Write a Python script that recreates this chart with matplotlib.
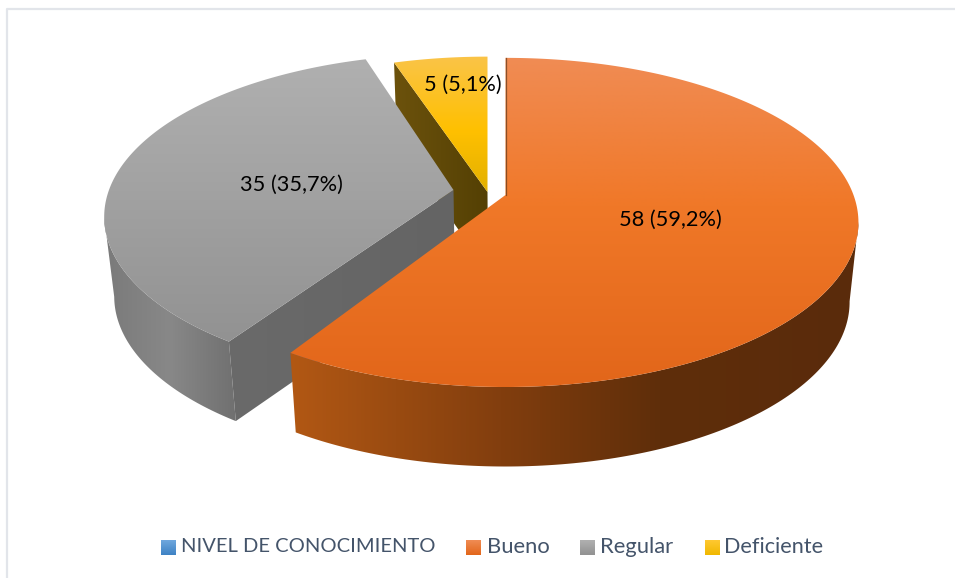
"""3D-looking exploded pie: nivel de conocimiento (Bueno / Regular / Deficiente)."""
import numpy as np
import matplotlib
matplotlib.use("Agg")
import matplotlib.pyplot as plt
from matplotlib.colors import LinearSegmentedColormap
from matplotlib.patches import Polygon

plt.rcParams["font.family"] = ["Lato", "DejaVu Sans"]

LEGEND_TITLE = "NIVEL DE CONOCIMIENTO"
categories = ["Bueno", "Regular", "Deficiente"]
values = [58, 35, 5]

W, H = 955, 578
# projection of the pie plane to pixels
S, A, P = 348.0, 160.0, 0.1667
DEPTH, SHRINK, CX = 79.5, 0.975, 505.0


def rgb(*c):
    return tuple(x / 255 for x in c)


def rim(t, apex, k=1.0):
    """Pie angle (clockwise from top, radians) to a pixel on the top rim."""
    t = np.asarray(t, dtype=float)
    u, v = np.sin(t) * k, np.cos(t) * k
    d = 1 + P * v
    return np.column_stack([apex[0] + S * u / d, apex[1] - A * v / d])


def drop(pts):
    """Same points on the bottom face of the disc."""
    pts = np.atleast_2d(pts)
    return np.column_stack([CX + (pts[:, 0] - CX) * SHRINK, pts[:, 1] + DEPTH])


def grad_fill(ax, pts, stops, vertical=True, zorder=1):
    pts = np.asarray(pts)
    x0, y0 = pts.min(axis=0)
    x1, y1 = pts.max(axis=0)
    cmap = LinearSegmentedColormap.from_list("g", [(p, rgb(*c)) for p, c in stops])
    ramp = np.linspace(0, 1, 256)
    img = ramp[:, None] if vertical else ramp[None, :]
    clip = Polygon(pts, closed=True, transform=ax.transData, fc="none", ec="none")
    ax.add_patch(clip)
    ax.imshow(img, cmap=cmap, vmin=0, vmax=1, extent=(x0, x1, y1, y0), origin="upper",
              aspect="auto", clip_path=clip, zorder=zorder, interpolation="bilinear")


fig = plt.figure(figsize=(W / 100, H / 100), dpi=100)
ax = fig.add_axes([0, 0, 1, 1])
ax.axis("off")

# chart frame (only top and left show up)
ax.plot([7, 7, W], [H, 9, 9], color=rgb(226, 229, 234), lw=1.6, zorder=0)

total = sum(values)
edges = np.radians(np.cumsum([0] + values) / total * 360)
# small rotations the original 3D rendering gives the cut edges
t_orange = np.linspace(edges[0], edges[1] - np.radians(1.0), 240)
t_gray = np.linspace(edges[1], edges[2], 160) + np.radians(1.2)
t_yellow = np.linspace(edges[2], edges[3], 40)

apex_o = (505.5, 195.0)
apex_g = (453.5, 190.0)
apex_y = (487.5, 192.0)

# yellow slice: radial wall then top
top_y = rim(t_yellow, apex_y, 0.985)
wall = np.vstack([[apex_y], top_y[:1], drop(top_y[:1]), drop([apex_y])])
grad_fill(ax, wall, [(0, (108, 82, 12)), (1, (84, 64, 4))], vertical=False, zorder=2)
grad_fill(ax, np.vstack([[apex_y], top_y]),
          [(0, (250, 196, 72)), (0.55, (255, 192, 0)), (1, (226, 176, 0))], zorder=3)

# gray slice
top_g = rim(t_gray, apex_g, 0.99)
i_left = int(np.argmin(top_g[:, 0]))
wall = np.vstack([top_g[:i_left + 1], drop(top_g[:i_left + 1])[::-1]])
grad_fill(ax, wall, [(0, (122, 122, 122)), (0.5, (136, 136, 136)), (1, (112, 112, 112))],
          vertical=False, zorder=4)
wall = np.vstack([[apex_g], top_g[:1], drop(top_g[:1]), drop([apex_g])])
grad_fill(ax, wall, [(0, (106, 106, 106)), (1, (100, 100, 100))], vertical=False, zorder=5)
grad_fill(ax, np.vstack([[apex_g], top_g]),
          [(0, (176, 176, 176)), (1, (146, 146, 146))], zorder=6)

# orange slice
top_o = rim(t_orange, apex_o)
i_right = int(np.argmax(top_o[:, 0]))
wall = np.vstack([top_o[i_right:], drop(top_o[i_right:])[::-1]])
grad_fill(ax, wall, [(0, (178, 88, 20)), (0.37, (130, 62, 14)), (0.65, (95, 46, 10)),
                     (1, (90, 43, 12))], vertical=False, zorder=7)
grad_fill(ax, np.vstack([[apex_o], top_o]),
          [(0, (240, 140, 84)), (0.45, (240, 120, 40)), (1, (226, 102, 26))], zorder=8)
# thin sliver of the far cut face
ax.plot([apex_o[0], apex_o[0]], [apex_o[1], rim([0], apex_o)[0, 1]],
        color=rgb(96, 56, 24), lw=0.9, alpha=0.7, zorder=9)

# data labels
label_xy = [(670.5, 219.5), (291, 184.5), (462.5, 85)]
for v, (lx, ly) in zip(values, label_xy):
    txt = f"{v} ({v / total * 100:.1f}%)".replace(".", ",")
    ax.text(lx, ly, txt, ha="center", va="center", fontsize=15.7, color="black", zorder=10)

# legend
legend_names = [LEGEND_TITLE] + categories
legend_stops = [
    [(0, (112, 168, 222)), (1, (62, 130, 196))],
    [(0, (240, 140, 84)), (1, (226, 102, 26))],
    [(0, (176, 176, 176)), (1, (146, 146, 146))],
    [(0, (255, 200, 50)), (1, (240, 184, 0))],
]
legend_x = [161, 466, 580, 705]
legend_text_x = [181, 487, 600, 724]
legend_size = [14.5, 15.8, 15.8, 15.6]
for name, stops, x, tx, fs in zip(legend_names, legend_stops, legend_x, legend_text_x, legend_size):
    box = [(x, 540), (x + 15, 540), (x + 15, 555), (x, 555)]
    grad_fill(ax, box, stops, zorder=3)
    ax.text(tx, 547, name, ha="left", va="center", fontsize=fs, color=rgb(68, 84, 106))

ax.set_xlim(0, W)
ax.set_ylim(H, 0)
fig.savefig("out.png", dpi=100, facecolor="white")
